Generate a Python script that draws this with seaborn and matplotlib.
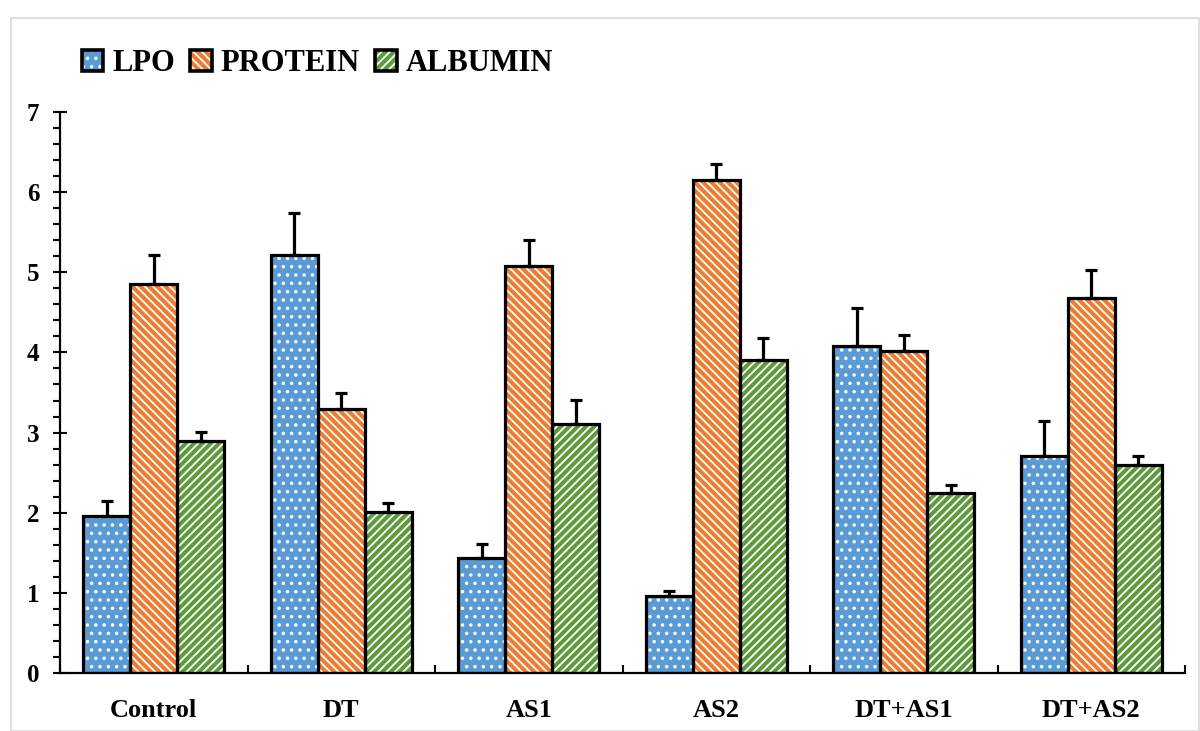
import numpy as np
import pandas as pd
import matplotlib.pyplot as plt
import seaborn as sns
from matplotlib.patches import Rectangle
from matplotlib.ticker import MultipleLocator

groups = ['Control', 'DT', 'AS1', 'AS2', 'DT+AS1', 'DT+AS2']
measures = ['LPO', 'PROTEIN', 'ALBUMIN']
lpo = [1.96, 5.21, 1.44, 0.96, 4.08, 2.71]
protein = [4.86, 3.30, 5.08, 6.15, 4.02, 4.68]
albumin = [2.90, 2.01, 3.11, 3.91, 2.25, 2.59]
lpo_sd = [0.19, 0.53, 0.17, 0.06, 0.47, 0.43]
protein_sd = [0.36, 0.19, 0.32, 0.20, 0.20, 0.35]
albumin_sd = [0.11, 0.11, 0.30, 0.27, 0.10, 0.12]

colors = {'LPO': '#5B9BD5', 'PROTEIN': '#ED7D31', 'ALBUMIN': '#5F9A3C'}
hatches = {'LPO': '..', 'PROTEIN': '\\\\\\\\', 'ALBUMIN': '////'}
sds = {'LPO': lpo_sd, 'PROTEIN': protein_sd, 'ALBUMIN': albumin_sd}

sns.set_style('white')
plt.rcParams['font.family'] = ['Liberation Serif', 'DejaVu Serif']
plt.rcParams['font.weight'] = 'bold'
plt.rcParams['hatch.linewidth'] = 1.3
for k in ['text.color', 'xtick.color', 'ytick.color', 'axes.labelcolor']:
    plt.rcParams[k] = 'black'

df = pd.DataFrame({
    'group': groups * 3,
    'measure': np.repeat(measures, len(groups)),
    'value': lpo + protein + albumin,
})

fig = plt.figure(figsize=(12, 7.31), dpi=100)
# light chart-area border
fig.add_artist(Rectangle((11 / 1200, 0), 1188 / 1200, 1 - 18 / 731, transform=fig.transFigure,
                         fill=False, edgecolor='#d9d9d9', lw=1.2))
ax = fig.add_axes([0.05, 0.0793, 0.9375, 0.7675])

sns.barplot(data=df, x='group', y='value', hue='measure', order=groups, hue_order=measures,
            palette=colors, saturation=1, width=0.75, gap=0, errorbar=None, legend=False, ax=ax)

handles = []
for cont, m in zip(ax.containers, measures):
    for bar, e in zip(cont, sds[m]):
        bar.set_edgecolor('white')
        bar.set_linewidth(0)
        bar.set_hatch(hatches[m])
        ax.add_patch(Rectangle(bar.get_xy(), bar.get_width(), bar.get_height(), fill=False,
                               edgecolor='black', lw=2.3, zorder=3))
        x = bar.get_x() + bar.get_width() / 2
        ax.errorbar(x, bar.get_height(), yerr=[[0], [e]], fmt='none', ecolor='black',
                    elinewidth=2.3, capsize=4.5, capthick=2.3, zorder=2)
    h1 = plt.Rectangle((0, 0), 1, 1, facecolor=colors[m], edgecolor='white', lw=0, hatch=hatches[m])
    h2 = plt.Rectangle((0, 0), 1, 1, fill=False, edgecolor='black', lw=2.6)
    handles.append((h1, h2))

ax.set_xlim(-0.5, 5.5)
ax.set_ylim(0, 7)
ax.set_xticks(range(len(groups)))
ax.set_xticklabels(groups, fontsize=19, fontweight='bold')
ax.xaxis.set_minor_locator(MultipleLocator(1, offset=0.5))
ax.set_yticks(range(8))
ax.set_yticklabels([str(i) for i in range(8)], fontsize=18, fontweight='bold')
ax.yaxis.set_minor_locator(MultipleLocator(0.2))
ax.tick_params(axis='x', which='both', direction='in', length=6, width=1.5, pad=19)
ax.tick_params(axis='y', which='major', direction='inout', length=10, width=1.5, pad=10)
ax.tick_params(axis='y', which='minor', direction='out', length=5, width=1.5)
ax.tick_params(left=True, bottom=True, which='both', color='black')
ax.set_xlabel('')
ax.set_ylabel('')
for s in ['top', 'right']:
    ax.spines[s].set_visible(False)
for s in ['left', 'bottom']:
    ax.spines[s].set_color('black')
    ax.spines[s].set_linewidth(1.6)

fig.legend(handles, measures, loc='center left', bbox_to_anchor=(0.068, 0.913), ncol=3,
           frameon=False, handlelength=0.7, handleheight=0.7,
           handletextpad=0.3, columnspacing=0.5, borderaxespad=0, borderpad=0,
           prop={'weight': 'bold', 'size': 22})

fig.savefig('out.png', dpi=100)
